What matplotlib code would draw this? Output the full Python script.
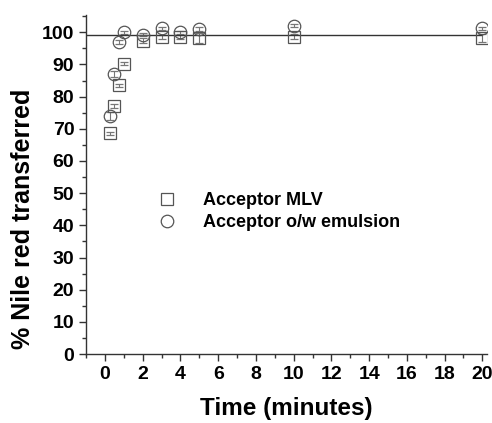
import matplotlib.pyplot as plt
from matplotlib.lines import Line2D
from matplotlib.ticker import MultipleLocator

plt.rcParams['font.family'] = ['Liberation Sans', 'DejaVu Sans']

time = [0.25, 0.5, 0.75, 1, 2, 3, 4, 5, 10, 20]
mlv = [68.6, 77.1, 83.5, 90.2, 97.4, 98.5, 98.6, 98.2, 98.6, 98.2]
mlv_err = [0.5, 0.5, 0.5, 0.5, 0.8, 0.6, 0.6, 1.5, 0.8, 1.2]
emul = [74.0, 87.0, 97.0, 100.0, 99.2, 101.2, 100.0, 101.0, 102.0, 101.2]
emul_err = [1.2, 1.0, 0.6, 0.4, 0.5, 0.5, 0.5, 0.5, 0.5, 0.5]
plateau = 99

fig = plt.figure(figsize=(4.92, 4.23), dpi=100)
ax = fig.add_axes([0.175, 0.163, 0.815, 0.801])

ax.errorbar(time, mlv, yerr=mlv_err, fmt='s', ms=8, mfc='none', mec='#555555',
            mew=0.9, ecolor='#777777', elinewidth=0.8, capsize=3)
ax.errorbar(time, emul, yerr=emul_err, fmt='o', ms=9, mfc='none', mec='#555555',
            mew=0.9, ecolor='#777777', elinewidth=0.8, capsize=3)
ax.hlines(plateau, -1, 20, color='#333333', lw=1.0)

ax.set_xlim(-1, 20.25)
ax.set_ylim(0, 105.3)
ax.spines['top'].set_visible(False)
ax.spines['right'].set_visible(False)
for s in ['left', 'bottom']:
    ax.spines[s].set_linewidth(1.0)
    ax.spines[s].set_color('#333333')

ax.xaxis.set_minor_locator(MultipleLocator(1))
ax.yaxis.set_minor_locator(MultipleLocator(5))
ax.set_xticks(range(0, 21, 2))
ax.set_yticks(range(0, 101, 10))
ax.tick_params(which='major', length=5, width=1, color='#333333', direction='out')
ax.tick_params(which='minor', length=3, width=1, color='#333333', direction='out')
for lab in ax.get_xticklabels() + ax.get_yticklabels():
    lab.set_fontweight('bold')
    lab.set_fontsize(14)

ax.set_xlabel('Time (minutes)', fontsize=17.5, fontweight='bold', labelpad=10)
ax.set_ylabel('% Nile red transferred', fontsize=18, fontweight='bold')
ax.yaxis.set_label_coords(-0.127, 0.40)

handles = [
    Line2D([], [], ls='none', marker='s', ms=8, mfc='none', mec='#555555', mew=0.9),
    Line2D([], [], ls='none', marker='o', ms=9, mfc='none', mec='#555555', mew=0.9),
]
labels = ['Acceptor MLV', 'Acceptor o/w emulsion']
ax.legend(handles, labels, loc='center left', bbox_to_anchor=(0.18, 0.42),
          frameon=False, prop={'weight': 'bold', 'size': 13},
          handlelength=1.0, handletextpad=1.5, borderpad=0, borderaxespad=0,
          labelspacing=0.3)

fig.savefig('out.png', dpi=100)
